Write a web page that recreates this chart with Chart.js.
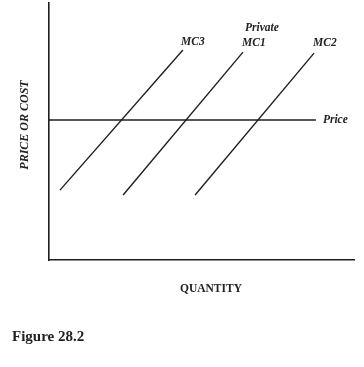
<!DOCTYPE html>
<html>
<head>
<meta charset="utf-8">
<script src="https://cdn.jsdelivr.net/npm/chart.js@4"></script>
<style>
  html, body { margin: 0; padding: 0; background: #fff; }
  canvas { display: block; }
</style>
</head>
<body>
<canvas id="myChart" width="364" height="367"></canvas>
<script>
// quantity / price in abstract units (0..100 on both axes)
const mc3 = [[3.6, 27.2], [43.9, 81.7]];
const mc1 = [[24.3, 25.3], [63.6, 80.9]];
const mc2 = [[47.9, 25.3], [86.9, 80.5]];
const priceLevel = 54.5;
const priceRange = [0, 87.5];

const toPts = arr => arr.map(p => ({ x: p[0], y: p[1] }));

const lineStyle = {
  showLine: true,
  borderColor: '#1e1e1e',
  borderWidth: 1.4,
  pointRadius: 0,
  fill: false
};

const serif = '"Liberation Serif", "DejaVu Serif", serif';

// text labels drawn at data positions
const labels = {
  id: 'labels',
  afterDraw(chart) {
    const c = chart.ctx;
    const xs = chart.scales.x, ys = chart.scales.y;
    c.save();
    c.fillStyle = '#222';
    c.textBaseline = 'middle';
    c.font = 'italic bold 11.5px ' + serif;
    c.textAlign = 'left';
    c.fillText('MC3', 181, 42);
    c.fillText('Private', 245, 28);
    c.fillText('MC1', 242, 43);
    c.fillText('MC2', 313, 43);
    c.fillText('Price', xs.getPixelForValue(priceRange[1]) + 7, ys.getPixelForValue(priceLevel));

    c.save();
    c.translate(25, 125);
    c.rotate(-Math.PI / 2);
    c.textAlign = 'center';
    c.font = 'italic bold 12px ' + serif;
    c.fillText('PRICE OR COST', 0, 0);
    c.restore();

    c.textAlign = 'center';
    c.font = 'bold 11.5px ' + serif;
    c.fillText('QUANTITY', 211, 289);

    c.textAlign = 'left';
    c.font = 'bold 15px ' + serif;
    c.fillText('Figure 28.2', 12, 337);
    c.restore();
  }
};

const ctx = document.getElementById("myChart");
const myChart = new Chart(ctx, {
  type: 'scatter',
  data: {
    datasets: [
      { ...lineStyle, data: toPts(mc3) },
      { ...lineStyle, data: toPts(mc1) },
      { ...lineStyle, data: toPts(mc2) },
      { ...lineStyle, data: [{ x: priceRange[0], y: priceLevel }, { x: priceRange[1], y: priceLevel }] }
    ]
  },
  options: {
    responsive: false,
    animation: false,
    layout: { padding: { left: 49, top: 3, right: 10, bottom: 107 } },
    plugins: {
      legend: { display: false },
      tooltip: { enabled: false }
    },
    scales: {
      x: {
        type: 'linear', min: 0, max: 100,
        grid: { display: false, drawTicks: false },
        ticks: { display: false },
        border: { display: true, color: '#1e1e1e', width: 1.6 }
      },
      y: {
        type: 'linear', min: 0, max: 100,
        grid: { display: false, drawTicks: false },
        ticks: { display: false },
        border: { display: true, color: '#1e1e1e', width: 1.6 }
      }
    }
  },
  plugins: [labels]
});
</script>
</body>
</html>
